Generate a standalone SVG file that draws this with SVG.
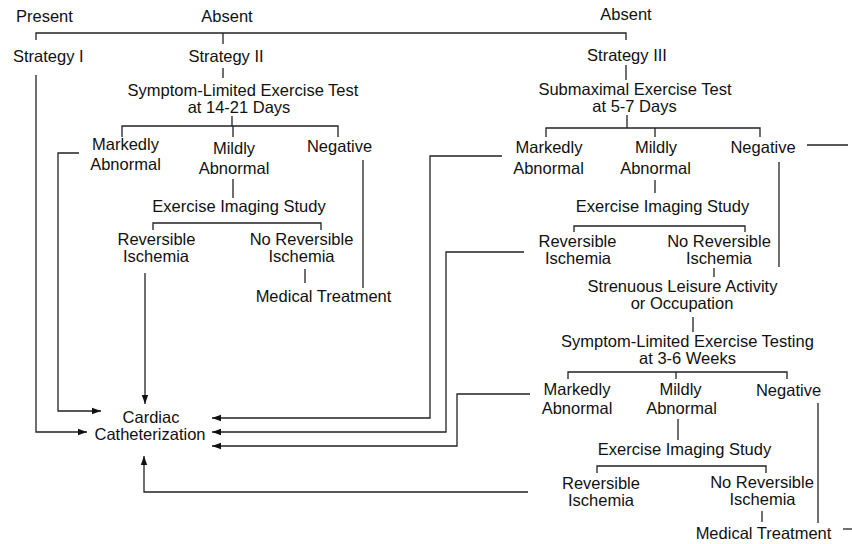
<svg xmlns="http://www.w3.org/2000/svg" width="852" height="544" viewBox="0 0 852 544">
<defs>
<style>
text{font-family:"Liberation Sans",Arial,sans-serif;font-size:16.5px;fill:#111;}
.c{text-anchor:middle;}
.ln{fill:none;stroke:#222;stroke-width:1.3;}
</style>
<marker id="ah" markerUnits="userSpaceOnUse" markerWidth="10" markerHeight="8" refX="9" refY="4" orient="auto">
<path d="M0,0.8 L9,4 L0,7.2 Z" fill="#111"/>
</marker>
</defs>
<rect width="852" height="544" fill="#fff"/>
<g id="connectors" class="ln">
<path d="M36,40 V33 H626 V40"/>
<path d="M223,33 V44"/>
<path d="M36,75 V432 H87" marker-end="url(#ah)"/>
<path d="M223,68 V78"/>
<path d="M232,116 V126"/>
<path d="M122,137 V126 H338 V137"/>
<path d="M233,126 V137"/>
<path d="M79,153 H58 V411 H101" marker-end="url(#ah)"/>
<path d="M233,179 V198"/>
<path d="M153,230 V223 H321 V230"/>
<path d="M145,273 V404" marker-end="url(#ah)"/>
<path d="M305,269 V283"/>
<path d="M363,160 V288"/>
<path d="M626,65 V80"/>
<path d="M627,115 V128"/>
<path d="M546,137 V128 H760 V137"/>
<path d="M655,128 V137"/>
<path d="M502,156 H430 V418 H212" marker-end="url(#ah)"/>
<path d="M655,180 V193"/>
<path d="M574,232 V226 H745 V232"/>
<path d="M524,252 H446 V432 H212" marker-end="url(#ah)"/>
<path d="M714,268 V277"/>
<path d="M779,162 V267"/>
<path d="M807,145 H848"/>
<path d="M693,317 V332"/>
<path d="M568,379 V372 H787 V379"/>
<path d="M676,372 V379"/>
<path d="M530,394 H457 V446 H212" marker-end="url(#ah)"/>
<path d="M678,419 V440"/>
<path d="M597,473 V466 H766 V473"/>
<path d="M528,492 H144 V456" marker-end="url(#ah)"/>
<path d="M762,511 V522"/>
<path d="M818,403 V523"/>
<path d="M843,529 H852"/>
</g>
<g id="present"><text x="16" y="22">Present</text></g>
<g id="absent-left"><text class="c" x="227" y="22">Absent</text></g>
<g id="absent-right"><text class="c" x="626" y="20">Absent</text></g>
<g id="strategy-1"><text x="13" y="62">Strategy I</text></g>
<g id="strategy-2"><text class="c" x="226" y="62">Strategy II</text></g>
<g id="s2-test"><text class="c" x="243" y="96">Symptom-Limited Exercise Test<tspan x="239" y="113">at 14-21 Days</tspan></text></g>
<g id="s2-marked"><text class="c" x="125.5" y="150">Markedly<tspan x="125.5" y="170">Abnormal</tspan></text></g>
<g id="s2-mild"><text class="c" x="234" y="154">Mildly<tspan x="234" y="174">Abnormal</tspan></text></g>
<g id="s2-negative"><text class="c" x="339.5" y="152">Negative</text></g>
<g id="s2-imaging"><text class="c" x="239" y="212">Exercise Imaging Study</text></g>
<g id="s2-rev"><text class="c" x="156.5" y="245">Reversible<tspan x="156" y="262">Ischemia</tspan></text></g>
<g id="s2-norev"><text class="c" x="301.5" y="245">No Reversible<tspan x="301.5" y="262">Ischemia</tspan></text></g>
<g id="s2-medical"><text class="c" x="323.5" y="302">Medical Treatment</text></g>
<g id="cath"><text class="c" x="151" y="423">Cardiac<tspan x="150" y="440">Catheterization</tspan></text></g>
<g id="strategy-3"><text class="c" x="627" y="61">Strategy III</text></g>
<g id="s3-test"><text class="c" x="635" y="95">Submaximal Exercise Test<tspan x="634.5" y="112">at 5-7 Days</tspan></text></g>
<g id="s3-marked"><text class="c" x="549" y="153">Markedly<tspan x="548.5" y="174">Abnormal</tspan></text></g>
<g id="s3-mild"><text class="c" x="656" y="153">Mildly<tspan x="655.5" y="174">Abnormal</tspan></text></g>
<g id="s3-negative"><text class="c" x="763" y="153">Negative</text></g>
<g id="s3-imaging"><text class="c" x="662.5" y="212">Exercise Imaging Study</text></g>
<g id="s3-rev"><text class="c" x="577.5" y="246.5">Reversible<tspan x="578" y="263.5">Ischemia</tspan></text></g>
<g id="s3-norev"><text class="c" x="719" y="246.5">No Reversible<tspan x="719" y="263.5">Ischemia</tspan></text></g>
<g id="s3-strenuous"><text class="c" x="682.5" y="292">Strenuous Leisure Activity<tspan x="682" y="309">or Occupation</tspan></text></g>
<g id="s3-test2"><text class="c" x="687.5" y="346.5">Symptom-Limited Exercise Testing<tspan x="687.5" y="363.5">at 3-6 Weeks</tspan></text></g>
<g id="s3b-marked"><text class="c" x="577" y="395">Markedly<tspan x="577" y="414">Abnormal</tspan></text></g>
<g id="s3b-mild"><text class="c" x="680.5" y="395">Mildly<tspan x="681.5" y="414">Abnormal</tspan></text></g>
<g id="s3b-negative"><text class="c" x="788.5" y="396">Negative</text></g>
<g id="s3b-imaging"><text class="c" x="684.5" y="455">Exercise Imaging Study</text></g>
<g id="s3b-rev"><text class="c" x="601" y="489">Reversible<tspan x="601" y="506">Ischemia</tspan></text></g>
<g id="s3b-norev"><text class="c" x="762" y="488">No Reversible<tspan x="762.5" y="505">Ischemia</tspan></text></g>
<g id="s3b-medical"><text class="c" x="763.5" y="539">Medical Treatment</text></g>
</svg>
